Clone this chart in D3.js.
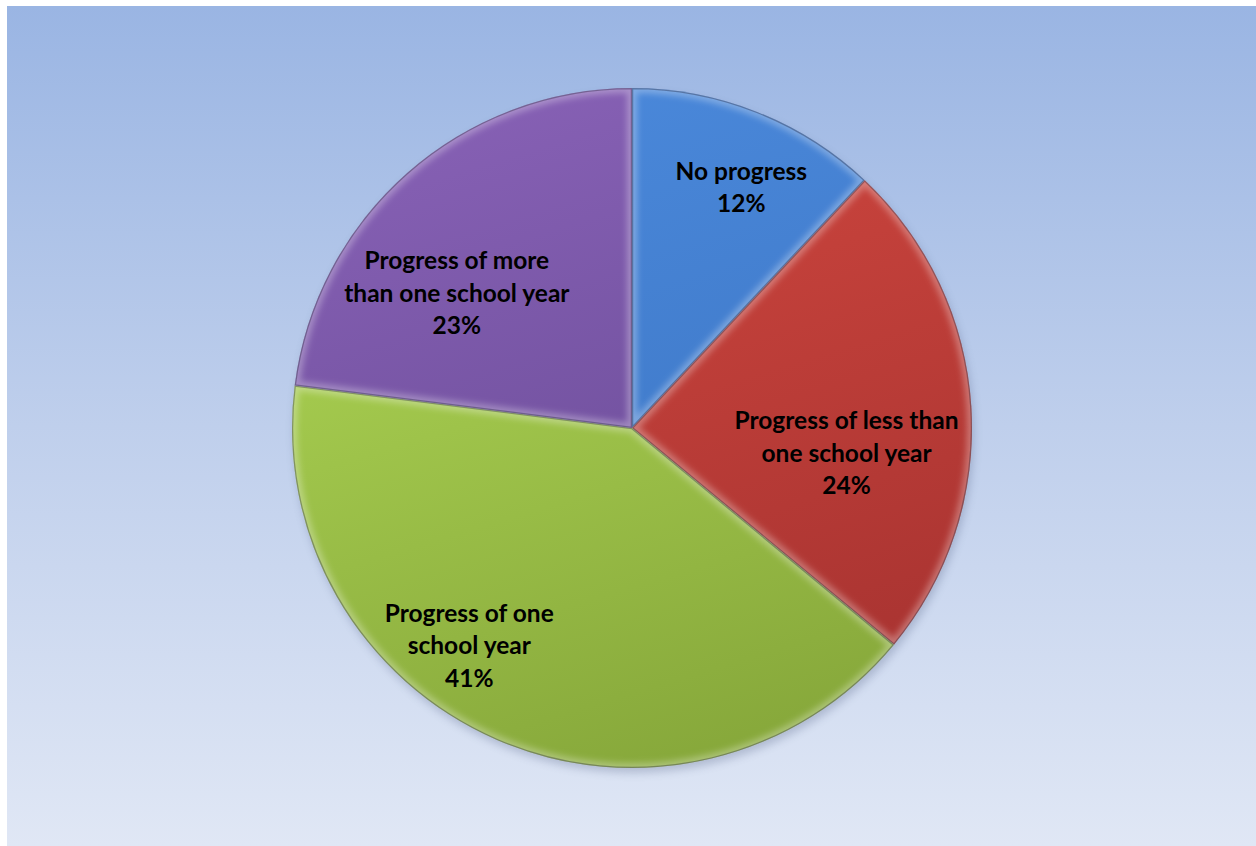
<!DOCTYPE html>
<html><head><meta charset="utf-8">
<script src="https://cdn.jsdelivr.net/npm/d3@7"></script>
<style>html,body{margin:0;padding:0;background:#fff;}svg{display:block;}</style>
</head><body>
<svg id="chart" width="1256" height="846"></svg>
<script>
const categories = ["No progress", "Progress of less than one school year", "Progress of one school year", "Progress of more than one school year"];
const values = [12, 24, 41, 23];
const labelLines = [["No progress"], ["Progress of less than", "one school year"], ["Progress of one", "school year"], ["Progress of more", "than one school year"]];
const topColors = ["#4a88da", "#d0473f", "#b0d856", "#8660b4"];
const bottomColors = ["#3a72c0", "#a63230", "#86a73a", "#634790"];
const labelNudge = [[28, -35], [-6, 39], [-75, 15], [-29, 31]];

const W = 1256, H = 846;
const svg = d3.select("#chart");
const defs = svg.append("defs");

const bg = defs.append("linearGradient").attr("id", "bg").attr("x1", 0).attr("y1", 0).attr("x2", 0).attr("y2", 1);
bg.append("stop").attr("offset", "0%").attr("stop-color", "#9ab5e3");
bg.append("stop").attr("offset", "50%").attr("stop-color", "#bfcfec");
bg.append("stop").attr("offset", "100%").attr("stop-color", "#e0e7f5");
svg.append("rect").attr("x", 7).attr("y", 6).attr("width", W - 7).attr("height", H - 6).attr("fill", "url(#bg)");

const cx = 632, cy = 428, R = 340;
const blur = defs.append("filter").attr("id", "blur").attr("x", "-20%").attr("y", "-20%").attr("width", "140%").attr("height", "140%");
blur.append("feGaussianBlur").attr("stdDeviation", 3);
const sh = defs.append("filter").attr("id", "shadow").attr("x", "-20%").attr("y", "-20%").attr("width", "140%").attr("height", "140%");
sh.append("feGaussianBlur").attr("stdDeviation", 4);

const pie = d3.pie().sort(null).value(d => d)(values);
const arc = d3.arc().innerRadius(0).outerRadius(R);
const labelArc = d3.arc().innerRadius(R * 0.65).outerRadius(R * 0.65);

const g = svg.append("g").attr("transform", `translate(${cx},${cy})`);

g.append("circle").attr("cx", 2).attr("cy", 5).attr("r", R).attr("fill", "#3a4a70").attr("opacity", 0.25).attr("filter", "url(#shadow)");

pie.forEach((d, i) => {
  const gr = defs.append("linearGradient").attr("id", "sg" + i).attr("gradientUnits", "userSpaceOnUse")
    .attr("x1", -R * 0.3).attr("y1", -R).attr("x2", R * 0.3).attr("y2", R);
  gr.append("stop").attr("offset", "0%").attr("stop-color", topColors[i]);
  gr.append("stop").attr("offset", "100%").attr("stop-color", bottomColors[i]);
  defs.append("clipPath").attr("id", "clip" + i).append("path").attr("d", arc(d));
});

const slices = g.selectAll("g.slice").data(pie).enter().append("g").attr("class", "slice");
slices.append("path").attr("d", arc).attr("fill", (d, i) => `url(#sg${i})`);
slices.append("g").attr("clip-path", (d, i) => `url(#clip${i})`)
  .append("path").attr("d", arc).attr("fill", "none").attr("stroke", "#ffffff")
  .attr("stroke-width", 10).attr("stroke-opacity", 0.3).attr("filter", "url(#blur)");
slices.append("g").attr("clip-path", (d, i) => `url(#clip${i})`)
  .append("path").attr("d", arc).attr("fill", "none").attr("stroke", "#1a1a30")
  .attr("stroke-width", 2.5).attr("stroke-opacity", 0.35);

const labels = g.selectAll("text.lbl").data(pie).enter().append("text").attr("class", "lbl")
  .attr("text-anchor", "middle")
  .attr("font-family", "Lato, 'Open Sans', sans-serif").attr("font-weight", "bold").attr("font-size", 24.5)
  .attr("fill", "#000");
labels.each(function(d, i) {
  const c = labelArc.centroid(d);
  const x = c[0] + labelNudge[i][0], y = c[1] + labelNudge[i][1];
  const lines = labelLines[i].concat([values[i] + "%"]);
  const lh = 32.5;
  const top = y - (lines.length - 1) * lh / 2;
  const t = d3.select(this);
  lines.forEach((ln, k) => {
    t.append("tspan").attr("x", x).attr("y", top + k * lh).attr("dy", "0.35em").text(ln);
  });
});
</script>
</body></html>
